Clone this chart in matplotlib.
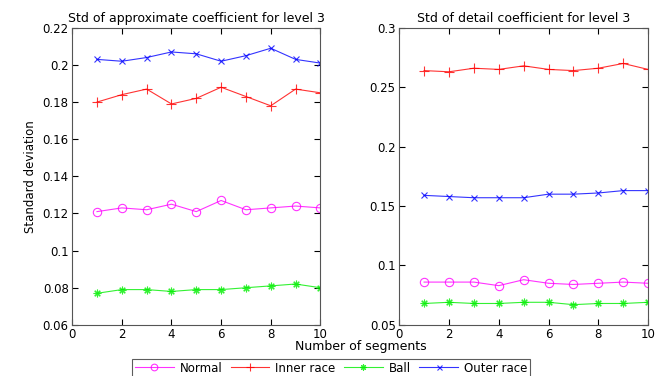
import numpy as np
from matplotlib import pyplot as plt

segments = np.arange(1, 11)

# approximate coefficient, level 3
approx_normal = [0.121, 0.123, 0.122, 0.125, 0.121, 0.127, 0.122, 0.123, 0.124, 0.123]
approx_inner = [0.180, 0.184, 0.187, 0.179, 0.182, 0.188, 0.183, 0.178, 0.187, 0.185]
approx_ball = [0.077, 0.079, 0.079, 0.078, 0.079, 0.079, 0.080, 0.081, 0.082, 0.080]
approx_outer = [0.203, 0.202, 0.204, 0.207, 0.206, 0.202, 0.205, 0.209, 0.203, 0.201]

# detail coefficient, level 3
detail_normal = [0.086, 0.086, 0.086, 0.083, 0.088, 0.085, 0.084, 0.085, 0.086, 0.085]
detail_inner = [0.264, 0.263, 0.266, 0.265, 0.268, 0.265, 0.264, 0.266, 0.270, 0.265]
detail_ball = [0.068, 0.069, 0.068, 0.068, 0.069, 0.069, 0.067, 0.068, 0.068, 0.069]
detail_outer = [0.159, 0.158, 0.157, 0.157, 0.157, 0.160, 0.160, 0.161, 0.163, 0.163]

labels = ['Normal', 'Inner race', 'Ball', 'Outer race']
colors = ['#ff00ff', '#ff0000', '#00ee00', '#0000ff']
markers = ['o', '+', (8, 2, 0), 'x']
msizes = [6, 7.5, 5.5, 4.5]

fig = plt.figure(figsize=(6.62, 3.76), dpi=100)
ax1 = fig.add_axes([0.109, 0.136, 0.375, 0.790])
ax2 = fig.add_axes([0.603, 0.136, 0.376, 0.790])

def draw(ax, series, title, ylim, yticks):
	lines = []
	for vals, c, m, ms, lab in zip(series, colors, markers, msizes, labels):
		ln, = ax.plot(segments, vals, color=c, marker=m, markersize=ms,
				markerfacecolor='none', markeredgewidth=0.8, linewidth=0.8,
				alpha=0.8, label=lab)
		lines.append(ln)
	ax.set_xlim(0, 10)
	ax.set_ylim(*ylim)
	ax.set_xticks(range(0, 11, 2))
	ax.set_yticks(yticks)
	ax.set_yticklabels(['%g' % t for t in yticks])
	ax.tick_params(direction='in', top=True, right=True, labelsize=8.5, length=4, pad=2.5)
	for s in ax.spines.values():
		s.set_color('#555555')
	ax.set_title(title, fontsize=9, pad=4)
	return lines

lines = draw(ax1, [approx_normal, approx_inner, approx_ball, approx_outer],
	'Std of approximate coefficient for level 3', (0.06, 0.22),
	np.round(np.arange(0.06, 0.2201, 0.02), 2))
draw(ax2, [detail_normal, detail_inner, detail_ball, detail_outer],
	'Std of detail coefficient for level 3', (0.05, 0.3),
	np.round(np.arange(0.05, 0.3001, 0.05), 2))

ax1.set_ylabel('Standard deviation', fontsize=8.5, labelpad=4)
fig.text(0.545, 0.078, 'Number of segments', ha='center', va='center', fontsize=9)

leg = fig.legend(lines, labels, loc='lower center', bbox_to_anchor=(0.5, -0.012),
	ncol=4, fontsize=8.5, frameon=True, fancybox=False, edgecolor='#333333',
	handlelength=3.3, columnspacing=0.7, borderpad=0.2, handletextpad=0.5,
	borderaxespad=0.3, markerscale=0.8)
leg.get_frame().set_linewidth(0.8)

plt.savefig('out.png', dpi=100)
